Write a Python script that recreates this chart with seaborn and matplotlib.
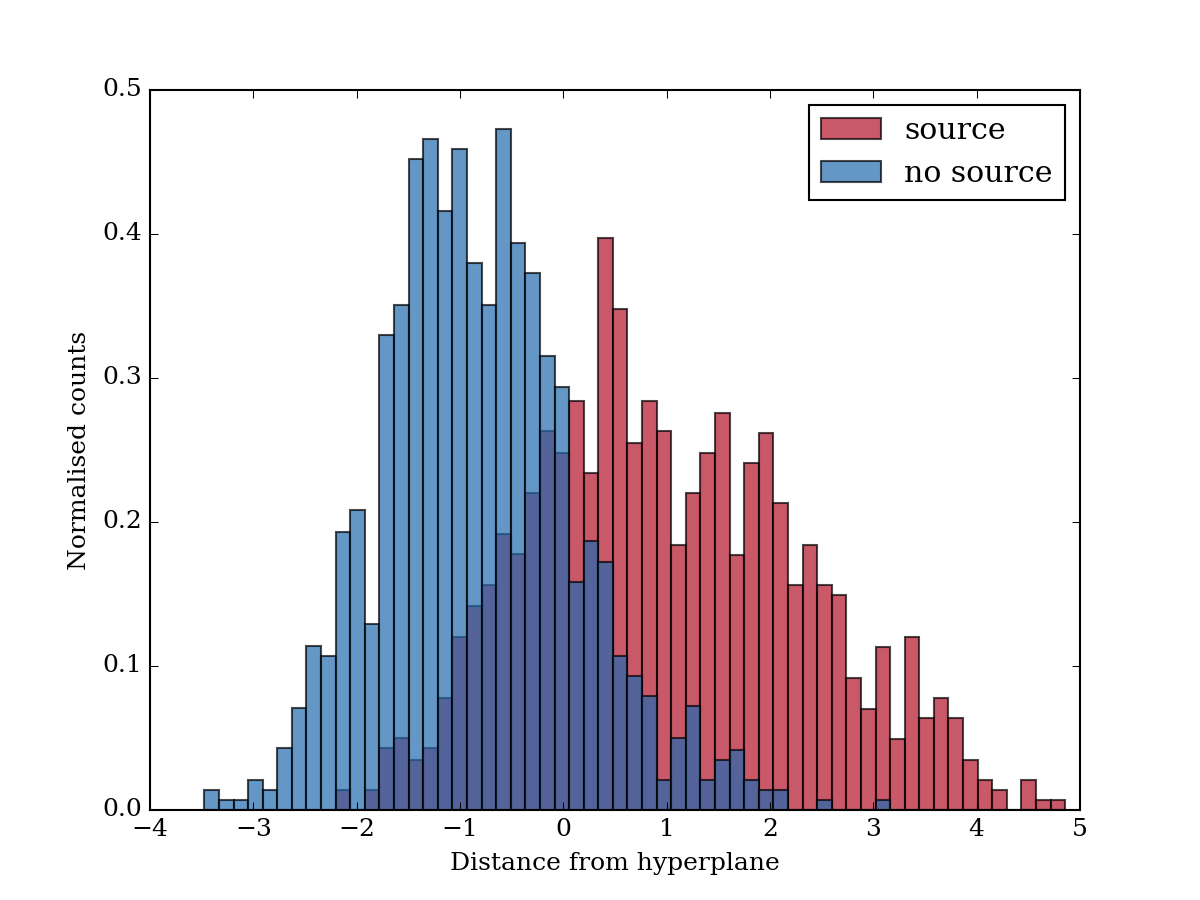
import numpy as np
import pandas as pd
import matplotlib
matplotlib.use("Agg")
import matplotlib.pyplot as plt
import seaborn as sns

# bin edges of the histograms (59 equal bins)
bin_edges = np.linspace(-3.474, 4.857, 60)

# normalised counts per bin
source = [0, 0, 0, 0, 0, 0, 0, 0, 0, 0.014,
          0, 0.014, 0.043, 0.050, 0.035, 0.043, 0.078, 0.120, 0.142, 0.156,
          0.192, 0.178, 0.220, 0.263, 0.248, 0.284, 0.234, 0.397, 0.348, 0.255,
          0.284, 0.263, 0.184, 0.220, 0.248, 0.276, 0.177, 0.241, 0.262, 0.213,
          0.156, 0.184, 0.156, 0.149, 0.092, 0.070, 0.113, 0.049, 0.120, 0.064,
          0.078, 0.064, 0.035, 0.021, 0.014, 0, 0.021, 0.007, 0.007]
no_source = [0.014, 0.007, 0.007, 0.021, 0.014, 0.043, 0.071, 0.114, 0.107, 0.193,
             0.208, 0.129, 0.330, 0.351, 0.452, 0.466, 0.416, 0.459, 0.380, 0.351,
             0.473, 0.394, 0.373, 0.315, 0.294, 0.158, 0.187, 0.172, 0.107, 0.093,
             0.079, 0.021, 0.050, 0.072, 0.021, 0.035, 0.042, 0.021, 0.014, 0.014,
             0, 0, 0.007, 0, 0, 0, 0.007, 0, 0, 0,
             0, 0, 0, 0, 0, 0, 0, 0, 0]
labels = ["source", "no source"]
xlabel = "Distance from hyperplane"
ylabel = "Normalised counts"

plt.style.use("classic")
plt.rcParams["font.family"] = ["DejaVu Serif"]
plt.rcParams["figure.facecolor"] = "white"
plt.rcParams["savefig.facecolor"] = "white"

centers = (bin_edges[:-1] + bin_edges[1:]) / 2
df_src = pd.DataFrame({"x": centers, "w": source})
df_nos = pd.DataFrame({"x": centers, "w": no_source})
edges = list(bin_edges)

fig, ax = plt.subplots(figsize=(8, 6), dpi=150)
fig.subplots_adjust(left=0.125, right=0.9, bottom=0.1, top=0.9)

edge_rgba = (0, 0, 0, 0.7)
sns.histplot(data=df_src, x="x", weights="w", bins=edges, color="#B21329", alpha=0.7,
             edgecolor=edge_rgba, linewidth=1.0, label=labels[0], ax=ax)
sns.histplot(data=df_nos, x="x", weights="w", bins=edges, color="#226AAF", alpha=0.7,
             edgecolor=edge_rgba, linewidth=1.0, label=labels[1], ax=ax)

ax.set_xlim(-4, 5)
ax.set_ylim(0, 0.5)
ax.set_xticks(np.arange(-4, 6, 1))
ax.set_yticks(np.arange(0, 0.51, 0.1))
ax.set_xlabel(xlabel)
ax.set_ylabel(ylabel)
ax.legend(loc="upper right")

fig.savefig("out.png", dpi=150)
